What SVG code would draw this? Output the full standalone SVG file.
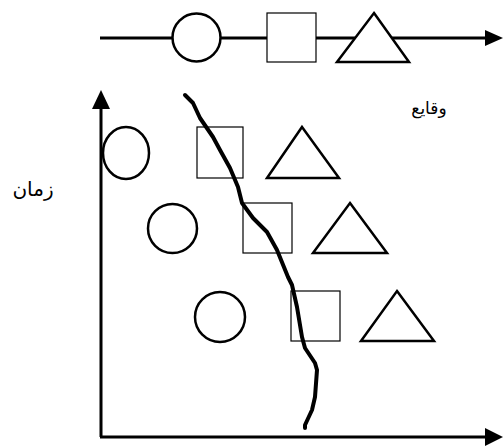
<svg xmlns="http://www.w3.org/2000/svg" width="503" height="447" viewBox="0 0 503 447">
<style>
.ln{stroke:#000;stroke-width:3;fill:none}
.c{stroke:#000;stroke-width:2.5;fill:#fff}
.s{stroke:#000;stroke-width:1.2;fill:none}
.t{stroke:#000;stroke-width:2.5;fill:#fff;stroke-linejoin:miter}
.lbl{font-family:"DejaVu Sans","Noto Sans",sans-serif;fill:#000;text-anchor:middle}
</style>
<rect width="503" height="447" fill="#fff"/>
<g id="connectors">
<line class="ln" x1="100" y1="38" x2="485" y2="38"/>
<path d="M485,30 L503,38 L485,46 z" fill="#000"/>
<line class="ln" x1="101" y1="437" x2="101" y2="108"/>
<path d="M92,109 L101,90 L110,109 z" fill="#000"/>
<line class="ln" x1="100" y1="437" x2="486" y2="437"/>
<path d="M485,428 L503,437 L485,446 z" fill="#000"/>
</g>
<g id="timeline-circle"><circle class="c" cx="196.5" cy="37.5" r="24"/></g>
<g id="timeline-square"><rect class="s" x="267" y="13" width="49" height="49" style="fill:#fff"/></g>
<g id="timeline-triangle"><polygon class="t" points="374,13 409,62 337,62"/></g>
<g id="circle1"><ellipse class="c" cx="126" cy="153" rx="23" ry="26"/></g>
<g id="square1"><rect class="s" x="197" y="127" width="46" height="51"/></g>
<g id="triangle1"><polygon class="t" points="302,127 339,178 267,178"/></g>
<g id="circle2"><circle class="c" cx="172.5" cy="228.5" r="24.5"/></g>
<g id="square2"><rect class="s" x="243" y="203" width="49" height="50"/></g>
<g id="triangle2"><polygon class="t" points="350,203 387,253 313,253"/></g>
<g id="circle3"><circle class="c" cx="220" cy="317" r="25"/></g>
<g id="square3"><rect class="s" x="291" y="291" width="49" height="50"/></g>
<g id="triangle3"><polygon class="t" points="397,291 434,341 361,341"/></g>
<g id="boundary">
<path d="M185,95 L193,103 L200,118 L213,137 L220,150 L230,168 L238,187 L242,203 L253,218 L267,232 L277,250 L288,277 L292,285 L297,307 L302,337 L305,348 L315,363 L317,370 L315,397 L312,410 L305,425 L305,428" fill="none" stroke="#000" stroke-width="4" stroke-linejoin="round" stroke-linecap="round"/>
</g>
<g id="labels">
<text class="lbl" x="429" y="114" font-size="17">وقایع</text>
<text class="lbl" x="33" y="196" font-size="20">زمان</text>
</g>
</svg>
